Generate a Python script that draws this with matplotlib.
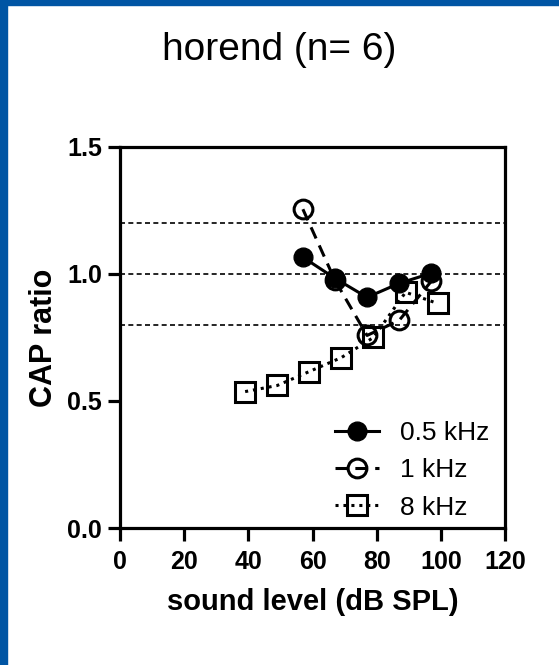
import matplotlib
matplotlib.use('Agg')
import matplotlib.pyplot as plt
from matplotlib.patches import Rectangle

plt.rcParams['font.family'] = ['Liberation Sans', 'DejaVu Sans']

# data
x_05 = [57, 67, 77, 87, 97]
y_05 = [1.066, 0.983, 0.908, 0.963, 1.003]

x_1 = [57, 67, 77, 87, 97]
y_1 = [1.255, 0.975, 0.758, 0.817, 0.971]

x_8 = [39, 49, 59, 69, 79, 89, 99]
y_8 = [0.537, 0.561, 0.616, 0.671, 0.75, 0.928, 0.884]

ref_lines = [0.8, 1.0, 1.2]
xticks = [0, 20, 40, 60, 80, 100, 120]
yticks = [0.0, 0.5, 1.0, 1.5]

fig = plt.figure(figsize=(5.59, 6.65), dpi=100)
ax = fig.add_axes([0.2147, 0.206, 0.6887, 0.573])

# blue frame at left and top
fig.patches.append(Rectangle((0, 0), 7 / 559, 1, transform=fig.transFigure,
                             color='#0055A4', zorder=-1))
fig.patches.append(Rectangle((0, 1 - 5 / 665), 1, 5 / 665, transform=fig.transFigure,
                             color='#0055A4', zorder=-1))

for y in ref_lines:
    ax.axhline(y, color='black', lw=1.2, ls=(0, (3, 2)), zorder=1)

ax.plot(x_8, y_8, color='black', lw=2.2, ls=(0, (1, 1.6)), marker='s', ms=14,
        mfc='none', mec='black', mew=2.2, label='8 kHz', zorder=2)
ax.plot(x_1, y_1, color='black', lw=2.2, ls=(0, (4, 2.5)), marker='o', ms=13.5,
        mfc='none', mec='black', mew=2.2, label='1 kHz', zorder=3)
ax.plot(x_05, y_05, color='black', lw=2.2, ls='-', marker='o', ms=13.5,
        mfc='black', mec='black', label='0.5 kHz', zorder=4)

ax.set_xlim(0, 120)
ax.set_ylim(0, 1.5)
ax.set_xticks(xticks)
ax.set_yticks(yticks)
ax.set_yticklabels(['0.0', '0.5', '1.0', '1.5'])
for s in ax.spines.values():
    s.set_linewidth(2.3)
ax.tick_params(direction='out', length=9, width=2.3, labelsize=18)
ax.tick_params(axis='x', pad=7)
ax.tick_params(axis='y', pad=4)
for lab in ax.get_xticklabels() + ax.get_yticklabels():
    lab.set_fontweight('bold')

ax.set_xlabel('sound level (dB SPL)', fontsize=21, fontweight='bold', labelpad=10)
ax.set_ylabel('CAP ratio', fontsize=22, fontweight='bold', labelpad=6)
fig.text(0.5, 0.925, 'horend (n= 6)', fontsize=28, ha='center', va='center')

h, l = ax.get_legend_handles_labels()
ax.legend(h[::-1], l[::-1], loc='lower right', frameon=False, fontsize=19,
          handlelength=1.65, handletextpad=0.8, labelspacing=0.5,
          bbox_to_anchor=(1.021, -0.04))

fig.savefig('out.png', dpi=100)
